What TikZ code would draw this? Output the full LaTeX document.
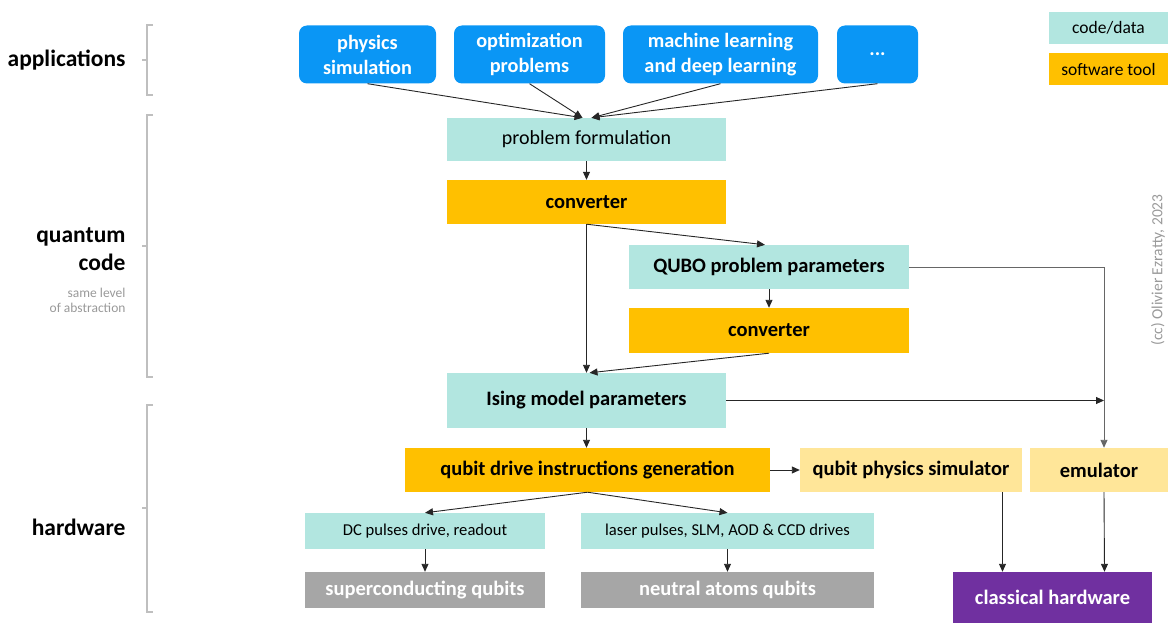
\documentclass[tikz,border=0pt]{standalone}
\usepackage{fontspec}
\setmainfont{Carlito}
\usetikzlibrary{arrows.meta}
\definecolor{cteal}{HTML}{B2E6E0}
\definecolor{corange}{HTML}{FFC000}
\definecolor{cyellow}{HTML}{FFE699}
\definecolor{cgray}{HTML}{A6A6A6}
\definecolor{cpurple}{HTML}{7030A0}
\definecolor{cblue}{HTML}{0A96F5}
\definecolor{cbracket}{HTML}{BFBFBF}
\begin{document}
\begin{tikzpicture}[x=1pt,y=-1pt,
  box/.style={draw=none, inner sep=0pt, align=center},
  appbox/.style={box, fill=cblue, text=white, rounded corners=8pt, font=\bfseries\fontsize{20.3}{25}\selectfont},
  datab/.style={box, fill=cteal, text=black},
  toolb/.style={box, fill=corange, text=black, font=\bfseries\fontsize{20.5}{24}\selectfont},
  simb/.style={box, fill=cyellow, text=black, font=\bfseries\fontsize{20.5}{24}\selectfont},
  hwb/.style={box, fill=cgray, text=white, font=\bfseries\fontsize{20.5}{24}\selectfont},
  arr/.style={-{Triangle[length=8pt,width=7pt]}, line width=0.9pt, draw=black!85},
  brk/.style={draw=cbracket, line width=1.6pt},
  lbl/.style={anchor=east, align=right, font=\bfseries\fontsize{23.5}{28}\selectfont}]
\useasboundingbox (0,0) rectangle (1168,623);

% left labels and brackets
\node[lbl] (lapp) at (129,60) {applications};
\node[lbl] (lqc) at (129,249) {quantum\\code};
\node[anchor=east, align=right, text=black!40, font=\fontsize{13.5}{15.5}\selectfont] (lsame) at (129,300.5) {same level\\of abstraction};
\node[lbl] (lhw) at (129,527) {hardware};
\draw[brk] (153,25) -- (147,25) -- (147,95) -- (153,95);
\draw[brk] (142,60) -- (147,60);
\draw[brk] (153,115) -- (147,115) -- (147,377) -- (153,377);
\draw[brk] (142,246) -- (147,246);
\draw[brk] (153,405) -- (147,405) -- (147,612) -- (153,612);
\draw[brk] (142,508) -- (147,508);

% applications
\node[appbox, minimum width=137pt, minimum height=58pt] (phys) at (367.5,54.5) {physics\\simulation};
\node[appbox, minimum width=151pt, minimum height=58pt] (opt) at (529.5,54.5) {optimization\\problems};
\node[appbox, minimum width=195pt, minimum height=58pt] (ml) at (720.5,54.5) {machine learning\\and deep learning};
\node[appbox, minimum width=81pt, minimum height=58pt] (dots) at (877.5,54.5) {...};

% quantum code
\node[datab, minimum width=279pt, minimum height=43pt, font=\fontsize{20}{24}\selectfont] (pf) at (586.5,139.5) {problem formulation};
\node[toolb, minimum width=279pt, minimum height=44pt] (conv1) at (586.5,202) {converter};
\node[datab, minimum width=280pt, minimum height=44pt, font=\bfseries\fontsize{20.5}{24}\selectfont] (qubo) at (769,267) {QUBO problem parameters};
\node[toolb, minimum width=280pt, minimum height=45pt] (conv2) at (769,330.5) {converter};
\node[datab, minimum width=279pt, minimum height=55pt, font=\bfseries\fontsize{20.5}{24}\selectfont] (ising) at (586.5,400.5) {Ising model parameters};

% hardware
\node[toolb, minimum width=365pt, minimum height=44pt] (qdi) at (587.5,470) {qubit drive instructions generation};
\node[simb, minimum width=222pt, minimum height=44pt] (sim) at (911,470) {qubit physics simulator};
\node[simb, minimum width=138pt, minimum height=44pt] (emu) at (1099,470) {emulator};
\node[datab, minimum width=240pt, minimum height=36pt, font=\fontsize{16.6}{20}\selectfont] (dc) at (425,531) {DC pulses drive, readout};
\node[datab, minimum width=293pt, minimum height=36pt, font=\fontsize{16.6}{20}\selectfont] (laser) at (727.5,531) {laser pulses, SLM, AOD \& CCD drives};
\node[hwb, minimum width=240pt, minimum height=36pt] (sc) at (425,590) {superconducting qubits};
\node[hwb, minimum width=293pt, minimum height=36pt] (na) at (727.5,590) {neutral atoms qubits};
\node[box, fill=cpurple, text=white, font=\bfseries\fontsize{20.5}{24}\selectfont, minimum width=199pt, minimum height=51pt] (ch) at (1052.5,597.5) {classical hardware};

% legend
\node[datab, minimum width=119pt, minimum height=32pt, font=\fontsize{17.5}{20}\selectfont] (lgdata) at (1108.5,28) {code/data};
\node[box, fill=corange, minimum width=119pt, minimum height=32pt, font=\fontsize{17.5}{20}\selectfont] (lgtool) at (1108.5,69) {software tool};

% copyright
\node[rotate=90, text=black!40, font=\fontsize{15.5}{18}\selectfont] (copy) at (1158,270) {(cc) Olivier Ezratty, 2023};

% connectors
\draw[arr] (phys.south) -- ([xshift=-4pt]pf.north);
\draw[arr] (opt.south) -- ([xshift=-4pt]pf.north);
\draw[arr] (ml.south) -- ([xshift=5pt]pf.north);
\draw[arr] (dots.south) -- ([xshift=5pt]pf.north);
\draw[arr] (pf.south) -- (conv1.north);
\draw[arr] (conv1.south) -- (ising.north);
\draw[arr] (conv1.south) -- ([xshift=-4pt]qubo.north);
\draw[arr] (qubo.south) -- (conv2.north);
\draw[arr] (conv2.south) -- ([xshift=3pt]ising.north);
\coordinate (emuIn) at ([xshift=5pt]emu.north);
\draw[arr, draw=black!60] (qubo.east) -| (emuIn);
\draw[arr] (ising.east) -- (ising.east -| emuIn);
\draw[arr] (ising.south) -- (ising.south |- qdi.north);
\draw[arr] (qdi.east) -- (sim.west);
\draw[arr] (qdi.south) -- (dc.north);
\draw[arr] (qdi.south) -- (laser.north);
\draw[arr] (dc.south) -- (sc.north);
\draw[arr] (laser.south) -- (na.north);
\coordinate (chL) at ([xshift=-50pt]ch.north);
\coordinate (chR) at ([xshift=52pt]ch.north);
\draw[arr] (sim.south -| chL) -- (chL);
\draw[arr] (emuIn |- emu.south) -- (chR);
\end{tikzpicture}
\end{document}
